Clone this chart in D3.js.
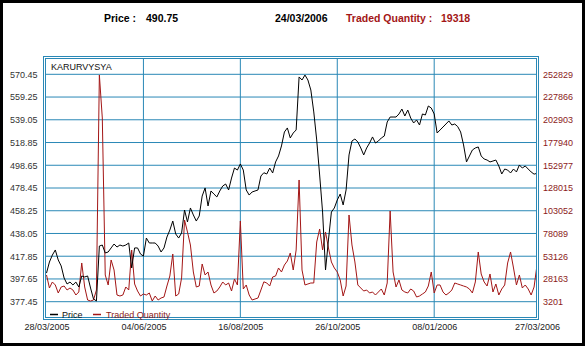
<!DOCTYPE html>
<html>
<head>
<meta charset="utf-8">
<script src="https://cdn.jsdelivr.net/npm/d3@7"></script>
<style>
  html, body { margin: 0; padding: 0; background: #fff; }
  svg { display: block; font-family: "Liberation Sans", Arial, sans-serif; }
</style>
</head>
<body>
<svg id="chart" width="585" height="346"></svg>
<script>
// ---- data -----------------------------------------------------------
const symbol = "KARURVYSYA";

// daily closing price (one value per plotted session)
const price = [
  402.9, 412.7, 418.9, 423.4, 414.5, 409.2, 398.5, 393.2, 394.9, 392.3,
  394.9, 390.5, 400.3, 399.4, 400.3, 389.6, 379.9, 378.1, 426.9, 427.8,
  420.7, 421.6, 425.2, 428.7, 426.0, 427.8, 426.9, 427.8, 429.6, 407.4,
  425.2, 425.2, 419.8, 418.0, 434.0, 429.6, 429.6, 429.6, 426.9, 421.6,
  425.2, 434.9, 441.1, 449.1, 437.6, 434.0, 438.5, 458.9, 448.3, 460.7,
  454.5, 449.1, 453.6, 471.3, 478.5, 462.5, 475.8, 473.1, 470.5, 475.8,
  480.2, 482.0, 476.7, 487.3, 496.2, 494.4, 499.8, 494.4, 476.7, 472.2,
  474.9, 475.8, 476.7, 489.1, 492.0, 490.9, 496.2, 491.8, 501.6, 506.9,
  515.8, 528.2, 531.8, 522.9, 527.3, 530.0, 577.1, 574.4, 578.8, 574.4,
  565.5, 546.0, 521.1, 490.0, 457.1, 405.6, 432.3, 457.1, 460.7, 467.8,
  473.1, 463.4, 476.7, 507.8, 520.2, 522.0, 519.3, 514.0, 507.8, 514.0,
  518.4, 523.8, 518.4, 520.2, 522.9, 524.6, 537.1, 541.5, 541.5, 541.5,
  544.2, 548.6, 542.4, 547.7, 540.6, 536.2, 538.9, 534.4, 544.2, 543.3,
  551.3, 549.5, 544.2, 527.3, 530.0, 532.6, 535.3, 538.0, 534.4, 535.3,
  533.0, 528.2, 516.7, 501.6, 506.9, 512.2, 514.0, 514.9, 506.9, 504.2,
  503.3, 501.6, 502.4, 503.3, 498.0, 490.9, 495.3, 494.4, 491.8, 495.3,
  492.7, 498.9, 496.2, 498.0, 495.3, 492.7, 490.75, 491.5
];

// daily traded quantity
const quantity = [
  32512, 18241, 24828, 21534, 12752, 19339, 20436, 16045, 18241, 16045,
  10556, 13850, 45686, 19339, 5067, 3969, 5067, 16045, 252072, 204867,
  32512, 21534, 48979, 38001, 10556, 9458, 10556, 19339, 16045, 59957,
  22632, 14947, 9458, 11654, 10556, 12752, 3969, 9458, 5067, 7263,
  8361, 20436, 31414, 55566, 9458, 11654, 29219, 92891, 79718, 65446,
  35806, 19339, 20436, 44588, 32512, 35806, 21534, 12752, 14947, 19339,
  24828, 21534, 23730, 14947, 28121, 21534, 91793, 17143, 21534, 10556,
  5067, 6165, 7263, 16045, 25000, 23730, 20436, 30317, 31414, 40197,
  35806, 43490, 47881, 56664, 38001, 59957, 136803, 38001, 21534, 22632,
  23730, 23730, 68740, 83011, 59957, 79718, 62153, 46784, 40197, 35806,
  27023, 9458, 20436, 98380, 65446, 46784, 21534, 18241, 14947, 16045,
  12752, 13850, 10556, 13850, 17143, 10556, 23730, 102771, 35806, 19339,
  27023, 16045, 13850, 12752, 17143, 14947, 8361, 9458, 11654, 13850,
  20436, 35806, 12752, 21534, 21534, 13850, 10556, 12752, 16045, 23730,
  22600, 21534, 20436, 19339, 17143, 12752, 24828, 57762, 33610, 24828,
  20436, 33610, 13850, 22632, 10556, 17143, 21534, 45686, 57762, 40197,
  21534, 32512, 18241, 21534, 17143, 10556, 19318, 43490
];

const priceTicks = [377.45, 397.65, 417.85, 438.05, 458.25, 478.45, 498.65, 518.85, 539.05, 559.25, 579.45];
const priceTickLabels = ["377.45", "397.65", "417.85", "438.05", "458.25", "478.45", "498.65", "518.85", "539.05", "559.25", "570.45"];
const quantityTicks = [3201, 28163, 53126, 78089, 103052, 128015, 152977, 177940, 202903, 227866, 252829];

// session index of each date label along the bottom
const dateTickIndex = [0, 33, 66, 99, 132, 167];
const dateTickLabels = ["28/03/2005", "04/06/2005", "16/08/2005", "26/10/2005", "08/01/2006", "27/03/2006"];

// session shown in the header readout
const readoutIndex = 166;
const readoutDate = "24/03/2006";

// ---- layout -----------------------------------------------------------
const W = 585, H = 346;
const frame = { left: 45, right: 537, top: 58, bottom: 318 };
const gridColor = "#2a88b6";
const qtyColor = "#a31616";

const svg = d3.select("#chart");

svg.append("rect").attr("width", W).attr("height", H).attr("fill", "#fff");
svg.append("rect")
  .attr("x", 1.5).attr("y", 1.5).attr("width", W - 3).attr("height", H - 3)
  .attr("fill", "none").attr("stroke", "#000").attr("stroke-width", 3);

// header readout
const header = svg.append("g").attr("font-weight", "bold").attr("font-size", 10.5);
header.append("text").attr("x", 104).attr("y", 22).attr("fill", "#000").text("Price :");
header.append("text").attr("x", 146).attr("y", 22).attr("fill", "#000").text(price[readoutIndex].toFixed(2));
header.append("text").attr("x", 275).attr("y", 22).attr("fill", "#000").text(readoutDate);
header.append("text").attr("x", 346).attr("y", 22).attr("fill", qtyColor).text("Traded Quantity :");
header.append("text").attr("x", 441).attr("y", 22).attr("fill", qtyColor).text(quantity[readoutIndex]);

// scales
const x = d3.scaleLinear().domain([0, price.length - 1]).range([46.5, 537]);
const yPrice = d3.scaleLinear().domain([priceTicks[0], priceTicks[priceTicks.length - 1]]).range([301.7, 74.3]);
const yQty = d3.scaleLinear().domain([quantityTicks[0], quantityTicks[quantityTicks.length - 1]]).range([301.7, 74.3]);

// double frame
svg.append("rect")
  .attr("x", frame.left - 1.5).attr("y", frame.top - 1.5)
  .attr("width", frame.right - frame.left + 3).attr("height", frame.bottom - frame.top + 3)
  .attr("fill", "none").attr("stroke", gridColor).attr("stroke-width", 1);
svg.append("rect")
  .attr("x", frame.left + 0.5).attr("y", frame.top + 0.5)
  .attr("width", frame.right - frame.left - 1).attr("height", frame.bottom - frame.top - 1)
  .attr("fill", "none").attr("stroke", gridColor).attr("stroke-width", 1);

// gridlines
svg.append("g").selectAll("line").data(priceTicks).join("line")
  .attr("x1", frame.left).attr("x2", frame.right)
  .attr("y1", d => yPrice(d)).attr("y2", d => yPrice(d))
  .attr("stroke", gridColor).attr("stroke-width", 1);
svg.append("g").selectAll("line").data(dateTickIndex.slice(1, -1)).join("line")
  .attr("x1", d => x(d)).attr("x2", d => x(d))
  .attr("y1", frame.top).attr("y2", frame.bottom)
  .attr("stroke", gridColor).attr("stroke-width", 1);

// series
svg.append("defs").append("clipPath").attr("id", "plotClip")
  .append("rect").attr("x", frame.left + 1).attr("y", frame.top + 1)
  .attr("width", frame.right - frame.left - 2).attr("height", frame.bottom - frame.top - 2);

const plot = svg.append("g").attr("clip-path", "url(#plotClip)");
plot.append("path").datum(quantity)
  .attr("d", d3.line().x((d, i) => x(i)).y(d => yQty(d)))
  .attr("fill", "none").attr("stroke", qtyColor).attr("stroke-width", 1);
plot.append("path").datum(price)
  .attr("d", d3.line().x((d, i) => x(i)).y(d => yPrice(d)))
  .attr("fill", "none").attr("stroke", "#000").attr("stroke-width", 1);

// symbol name
svg.append("text").attr("x", 51).attr("y", 70).attr("font-size", 9).attr("fill", "#111").text(symbol);

// axes
const leftAxis = svg.append("g").attr("transform", "translate(43,0)")
  .call(d3.axisLeft(yPrice).tickValues(priceTicks).tickFormat((d, i) => priceTickLabels[i]).tickSize(0).tickPadding(5.5));
const rightAxis = svg.append("g").attr("transform", "translate(539,0)")
  .call(d3.axisRight(yQty).tickValues(quantityTicks).tickFormat(d => String(d)).tickSize(0).tickPadding(4));
const bottomAxis = svg.append("g").attr("transform", `translate(0,${frame.bottom + 2})`)
  .call(d3.axisBottom(x).tickValues(dateTickIndex).tickFormat((d, i) => dateTickLabels[i]).tickSize(0).tickPadding(4));

[leftAxis, rightAxis, bottomAxis].forEach(g => {
  g.select(".domain").remove();
  g.selectAll("text").attr("font-family", "'Liberation Sans', Arial, sans-serif").attr("font-size", 9);
});
leftAxis.selectAll("text").attr("fill", "#333");
rightAxis.selectAll("text").attr("fill", "#8b1a1a");
bottomAxis.selectAll("text").attr("fill", "#222");

// legend
const legend = svg.append("g").attr("font-size", 9);
legend.append("line").attr("x1", 50).attr("x2", 58).attr("y1", 314.5).attr("y2", 314.5)
  .attr("stroke", "#000").attr("stroke-width", 1.5);
legend.append("text").attr("x", 62).attr("y", 317.7).attr("fill", "#111").text("Price");
legend.append("line").attr("x1", 93).attr("x2", 101).attr("y1", 314.5).attr("y2", 314.5)
  .attr("stroke", qtyColor).attr("stroke-width", 1.5);
legend.append("text").attr("x", 106).attr("y", 317.7).attr("fill", "#8b1a1a").text("Traded Quantity");
</script>
</body>
</html>
